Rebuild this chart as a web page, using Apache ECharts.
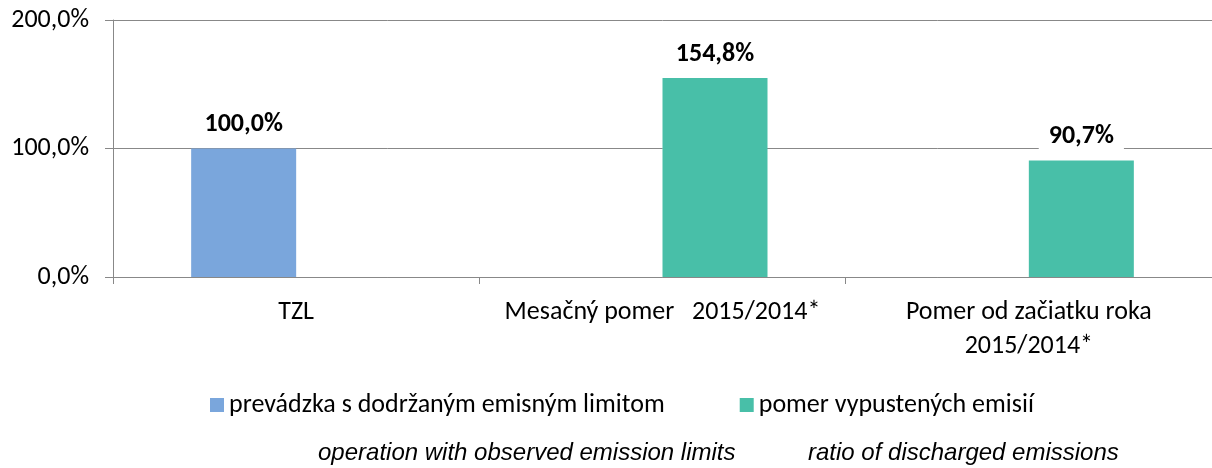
<!DOCTYPE html>
<html><head><meta charset="utf-8">
<script src="https://cdn.jsdelivr.net/npm/echarts@6/dist/echarts.min.js"></script>
<style>html,body{margin:0;padding:0;background:#fff}#c{width:1212px;height:468px}</style>
</head><body><div id="c"></div>
<script>
const categories = ['TZL', 'Mesačný pomer   2015/2014*', 'Pomer od začiatku roka\n2015/2014*'];
const seriesNames = ['prevádzka s dodržaným emisným limitom', 'pomer vypustených emisií'];
const limitValues = [100.0, null, null];
const ratioValues = [null, 154.8, 90.7];
const yTicks = [0, 100, 200];
const englishNotes = ['operation with observed emission limits', 'ratio of discharged emissions'];

const FONT = 'Carlito, Calibri, "Open Sans", sans-serif';
const fmt = v => v.toFixed(1).replace('.', ',') + '%';
const chart = echarts.init(document.getElementById('c'), null, {renderer: 'canvas'});
const labelCfg = {
  show: true, position: 'top', distance: 10,
  formatter: p => fmt(p.value),
  fontFamily: FONT, fontWeight: 'bold', fontSize: 26, color: '#000',
  backgroundColor: '#fff', padding: [1, 10]
};
chart.setOption({
  animation: false,
  textStyle: {fontFamily: FONT},
  grid: {left: 113, top: 20, width: 1104, height: 257, containLabel: false},
  legend: {
    left: 205, top: 387, itemWidth: 14, itemHeight: 14, itemGap: 75,
    icon: 'rect',
    textStyle: {fontFamily: FONT, fontSize: 26, color: '#000'},
    data: seriesNames
  },
  xAxis: {
    type: 'category', data: categories,
    axisLine: {lineStyle: {color: '#888', width: 1}},
    axisTick: {show: true, length: 7, lineStyle: {color: '#888'}},
    axisLabel: {fontFamily: FONT, fontSize: 26, color: '#000', margin: 18, lineHeight: 34, interval: 0}
  },
  yAxis: {
    type: 'value', min: yTicks[0], max: yTicks[yTicks.length - 1], interval: 100,
    axisLine: {show: true, lineStyle: {color: '#888'}},
    axisTick: {show: true, length: 8, lineStyle: {color: '#888'}},
    splitLine: {lineStyle: {color: '#888', width: 1}},
    axisLabel: {formatter: v => fmt(v), fontFamily: FONT, fontSize: 26, color: '#000', margin: 24}
  },
  series: [
    {name: seriesNames[0], type: 'bar', data: limitValues, barWidth: 105, barGap: '0%',
     itemStyle: {color: '#7AA6DC'}, label: labelCfg},
    {name: seriesNames[1], type: 'bar', data: ratioValues, barWidth: 105, barGap: '0%',
     itemStyle: {color: '#48BFA8'}, label: labelCfg}
  ],
  graphic: [
    {type: 'text', left: 318, top: 441, style: {text: englishNotes[0], fontFamily: '"Liberation Sans", Arial, sans-serif', fontStyle: 'italic', fontSize: 24, fill: '#000'}},
    {type: 'text', left: 808, top: 441, style: {text: englishNotes[1], fontFamily: '"Liberation Sans", Arial, sans-serif', fontStyle: 'italic', fontSize: 24, fill: '#000'}}
  ]
});
</script></body></html>
